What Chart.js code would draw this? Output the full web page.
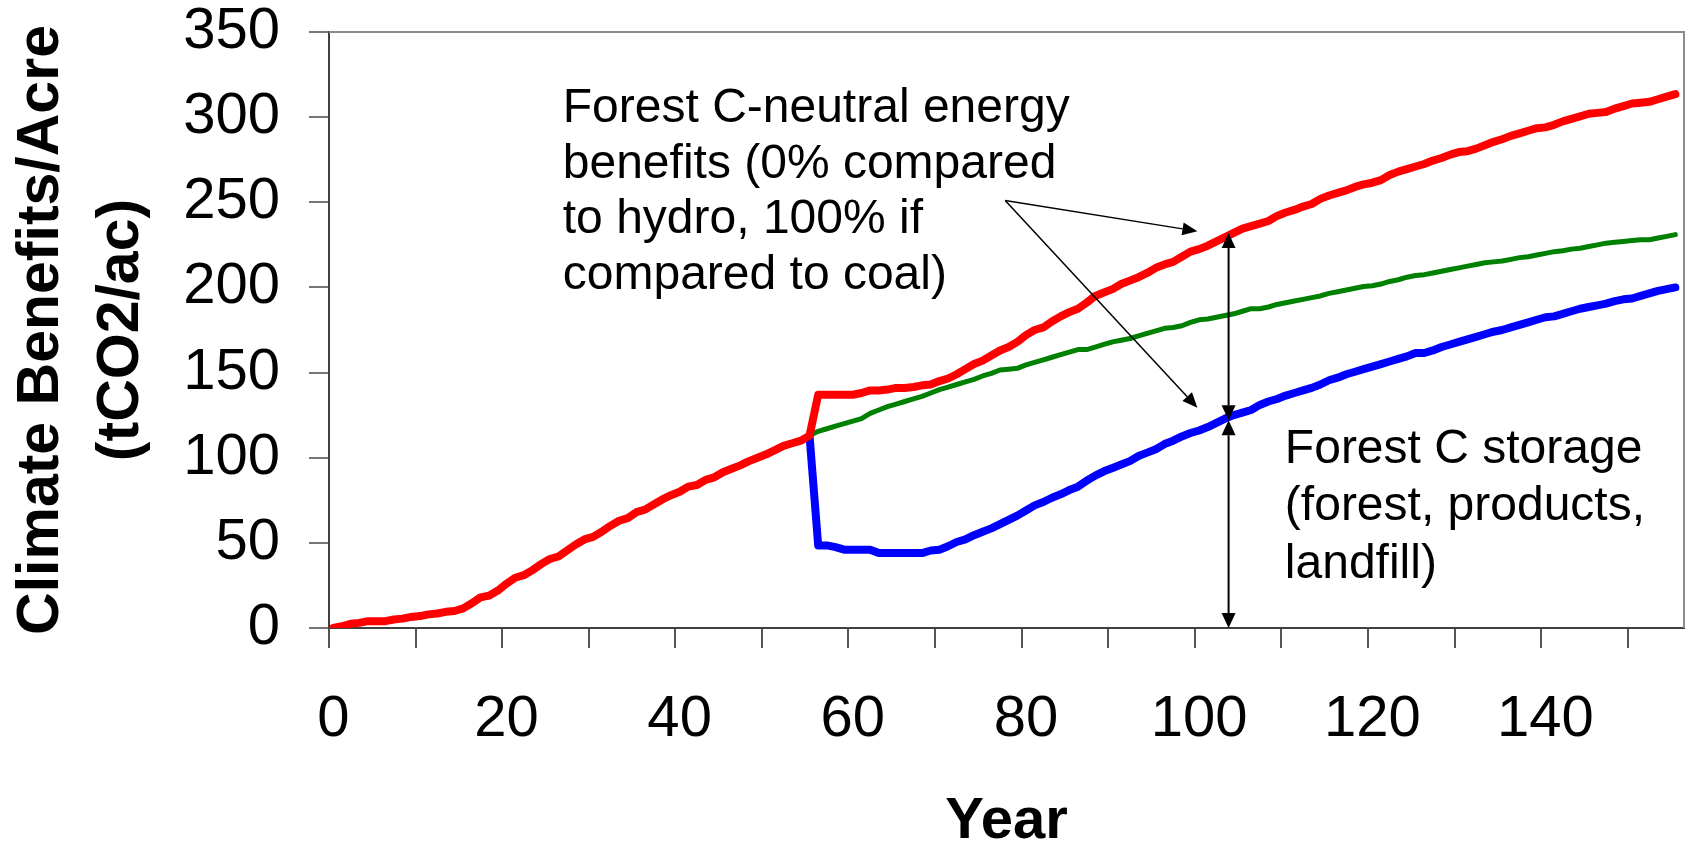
<!DOCTYPE html>
<html>
<head>
<meta charset="utf-8">
<script src="https://cdn.jsdelivr.net/npm/chart.js@4.4.1/dist/chart.umd.min.js"></script>
<style>
  html, body { margin: 0; padding: 0; background: #fff; }
  canvas { display: block; }
</style>
</head>
<body>
<canvas id="climate-chart" width="1688" height="847"></canvas>
<script>
// years 0..155, one value per year
const years = Array.from({length: 156}, (_, i) => i);

// forest C storage + C-neutral energy benefits (red)
const totalBenefits = [
  0, 1, 2.5, 3, 4, 4, 4, 5, 5.5, 6.5,
  7, 8, 8.5, 9.5, 10, 11.5, 14.5, 18, 19, 22,
  26, 29.5, 31, 34, 37.5, 40.5, 42, 45.5, 49, 52,
  53.5, 56.5, 60, 63, 64.5, 68, 69.5, 72.5, 75.5, 78,
  80, 83, 84, 87, 88.5, 91.5, 93.5, 95.5, 98, 100,
  102, 104.5, 107, 108.5, 110, 113, 137, 137, 137, 137,
  137, 138, 139.5, 139.5, 140, 141, 141, 141.5, 142.5, 143,
  145, 146.5, 149, 152, 155, 157, 160, 163, 165, 168,
  172, 175, 176.5, 180, 183, 185.5, 187.5, 191, 195, 197,
  199, 202, 204, 206, 208.5, 211.5, 213.5, 215, 218, 221,
  222.5, 224.5, 227, 229.5, 232, 234.5, 236, 237.5, 239, 242,
  244, 245.5, 247.5, 249, 252, 254, 255.5, 257, 259, 260.5,
  261.5, 263, 266, 268, 269.5, 271, 272.5, 274.5, 276, 278,
  279.5, 280, 281.5, 283.5, 285.5, 287, 289, 290.5, 292, 293.5,
  294, 295.5, 297.5, 299, 300.5, 302, 302.5, 303, 305, 306.5,
  308, 308.5, 309, 310.5, 312, 313.5
];

// the two storage lines split off the red one at the harvest year
const harvestYear = 55;

// forest C storage with harvest (blue), years 55..155
const harvestStorage = [
  113, 48.5, 48.5, 47.5, 46,
  46, 46, 46, 44, 44, 44, 44, 44, 44, 45.5,
  46, 48, 50.5, 52, 54.5, 56.5, 58.5, 61, 63.5, 66,
  69, 72, 74, 76.5, 78.5, 81, 83, 86.5, 89.5, 92,
  94, 96, 98, 101, 103, 105, 108, 110, 112.5, 114.5,
  116, 118, 120.5, 123, 125, 126.5, 128, 131, 133, 134.5,
  136.5, 138, 139.5, 141, 143, 145.5, 147, 149, 150.5, 152,
  153.5, 155, 156.5, 158, 159.5, 161.5, 161.5, 163, 165, 166.5,
  168, 169.5, 171, 172.5, 174, 175, 176.5, 178, 179.5, 181,
  182.5, 183, 184.5, 186, 187.5, 188.5, 189.5, 190.5, 192, 193,
  193.5, 195, 196.5, 198, 199, 200
];

// forest C storage without harvest (green), years 55..155
const noHarvestStorage = [
  113, 115.5, 117, 118.5, 120,
  121.5, 123, 126, 128, 130, 131.5, 133, 134.5, 136, 138,
  140, 141.5, 143, 144.5, 146, 148, 149.5, 151.5, 152, 152.5,
  154.5, 156, 157.5, 159, 160.5, 162, 163.5, 163.5, 165, 166.5,
  168, 169, 170, 171.5, 173, 174.5, 176, 176.5, 177.5, 179.5,
  181, 181.5, 182.5, 183.5, 184.5, 186, 187.5, 187.5, 188.5, 190,
  191, 192, 193, 194, 195, 196.5, 197.5, 198.5, 199.5, 200.5,
  201, 202, 203.5, 204.5, 206, 207, 207.5, 208.5, 209.5, 210.5,
  211.5, 212.5, 213.5, 214.5, 215, 215.5, 216.5, 217.5, 218, 219,
  220, 221, 221.5, 222.5, 223, 224, 225, 226, 226.5, 227,
  227.5, 228, 228, 229, 230, 231
];

// category axis: tick marks sit between years, labels every 20 years
const xTickYears = [0, 10, 20, 30, 40, 50, 60, 70, 80, 90, 100, 110, 120, 130, 140, 150];
const xTickLabels = ['0', '', '20', '', '40', '', '60', '', '80', '', '100', '', '120', '', '140', ''];

const energyNote = ['Forest C-neutral energy', 'benefits (0% compared', 'to hydro, 100% if', 'compared to coal)'];
const storageNote = ['Forest C storage', '(forest, products,', 'landfill)'];

// annotation anchors, in year / tCO2 units
const energyNoteAt = {x: 26.5, y: 297};
const storageNoteAt = {x: 109.9, y: 96.9};
const pointerFrom = {x: 77.6, y: 251};
const pointerTips = [{x: 99.8, y: 233}, {x: 99.8, y: 129.4}];
const bracketYear = 103.4;
const bracketLevels = [232, 122, 0];

const FONT = '"Liberation Sans", Arial, Helvetica, sans-serif';

function toPoints(values, startYear) {
  return values.map((v, i) => ({x: years[startYear + i], y: v}));
}

function drawArrowHead(ctx, fx, fy, tx, ty, len, half) {
  const a = Math.atan2(ty - fy, tx - fx);
  const bx = tx - len * Math.cos(a);
  const by = ty - len * Math.sin(a);
  ctx.beginPath();
  ctx.moveTo(tx, ty);
  ctx.lineTo(bx + half * Math.sin(a), by - half * Math.cos(a));
  ctx.lineTo(bx - half * Math.sin(a), by + half * Math.cos(a));
  ctx.closePath();
  ctx.fill();
}

function drawArrow(ctx, fx, fy, tx, ty, opts) {
  const {len, half, both} = opts;
  const a = Math.atan2(ty - fy, tx - fx);
  const sx = both ? fx + len * Math.cos(a) : fx;
  const sy = both ? fy + len * Math.sin(a) : fy;
  ctx.beginPath();
  ctx.moveTo(sx, sy);
  ctx.lineTo(tx - len * Math.cos(a), ty - len * Math.sin(a));
  ctx.stroke();
  drawArrowHead(ctx, fx, fy, tx, ty, len, half);
  if (both) {
    drawArrowHead(ctx, tx, ty, fx, fy, len, half);
  }
}

const annotations = {
  id: 'annotations',
  beforeDatasetsDraw(chart) {
    const {ctx, chartArea: area} = chart;
    ctx.save();
    ctx.strokeStyle = '#8c8c8c';
    ctx.lineWidth = 2;
    ctx.beginPath();
    ctx.moveTo(area.left, area.top);
    ctx.lineTo(area.right, area.top);
    ctx.lineTo(area.right, area.bottom);
    ctx.stroke();
    ctx.restore();
  },
  afterDatasetsDraw(chart) {
    const {ctx, scales: {x, y}} = chart;
    ctx.save();
    ctx.fillStyle = '#000';
    ctx.strokeStyle = '#000';

    // pointers from the energy note
    ctx.lineWidth = 1.5;
    const ox = x.getPixelForValue(pointerFrom.x);
    const oy = y.getPixelForValue(pointerFrom.y);
    pointerTips.forEach(tip => {
      drawArrow(ctx, ox, oy, x.getPixelForValue(tip.x), y.getPixelForValue(tip.y), {len: 15, half: 6.5});
    });

    // vertical brackets
    ctx.lineWidth = 2;
    const bx = x.getPixelForValue(bracketYear);
    for (let i = 0; i < bracketLevels.length - 1; i++) {
      drawArrow(ctx, bx, y.getPixelForValue(bracketLevels[i]), bx, y.getPixelForValue(bracketLevels[i + 1]),
        {len: 15, half: 7, both: true});
    }

    // notes
    ctx.font = '48px ' + FONT;
    ctx.textAlign = 'left';
    ctx.textBaseline = 'alphabetic';
    const ex = x.getPixelForValue(energyNoteAt.x);
    const ey = y.getPixelForValue(energyNoteAt.y);
    energyNote.forEach((line, i) => ctx.fillText(line, ex, ey + i * 55.5));
    const sx = x.getPixelForValue(storageNoteAt.x);
    const sy = y.getPixelForValue(storageNoteAt.y);
    storageNote.forEach((line, i) => ctx.fillText(line, sx, sy + i * 57.5));
    ctx.restore();
  }
};

new Chart(document.getElementById('climate-chart').getContext('2d'), {
  type: 'line',
  data: {
    datasets: [
      {
        label: 'Storage + C-neutral energy',
        data: toPoints(totalBenefits, 0),
        borderColor: '#ff0000',
        borderWidth: 8
      },
      {
        label: 'Forest C storage (harvest)',
        data: toPoints(harvestStorage, harvestYear),
        borderColor: '#0000ff',
        borderWidth: 8
      },
      {
        label: 'Forest C storage (no harvest)',
        data: toPoints(noHarvestStorage, harvestYear),
        borderColor: '#008000',
        borderWidth: 5
      }
    ]
  },
  options: {
    responsive: false,
    animation: false,
    events: [],
    layout: {
      padding: {left: 0, top: 32, right: 4, bottom: 0}
    },
    plugins: {
      legend: {display: false},
      tooltip: {enabled: false}
    },
    elements: {
      point: {radius: 0},
      line: {tension: 0, borderCapStyle: 'round', borderJoinStyle: 'round'}
    },
    scales: {
      x: {
        type: 'linear',
        min: -0.5,
        max: 156,
        bounds: 'data',
        afterBuildTicks: scale => {
          scale.ticks = xTickYears.map(v => ({value: v - 0.5}));
        },
        afterFit: scale => {
          scale.height = 219;
          scale.paddingLeft = 0;
          scale.paddingRight = 0;
        },
        grid: {drawOnChartArea: false, tickLength: 20, color: '#555', lineWidth: 2},
        border: {color: '#404040', width: 2},
        ticks: {
          callback: (value, index) => xTickLabels[index],
          autoSkip: false,
          maxRotation: 0,
          padding: 37,
          labelOffset: 4.3,
          color: '#000',
          font: {family: FONT, size: 58}
        },
        title: {
          display: true,
          text: 'Year',
          color: '#000',
          padding: 0,
          font: {family: FONT, size: 58, weight: 'bold', lineHeight: 0.85}
        }
      },
      y: {
        min: 0,
        max: 350,
        afterFit: scale => {
          scale.width = 329;
          scale.paddingTop = 0;
          scale.paddingBottom = 0;
        },
        grid: {drawOnChartArea: false, tickLength: 20, color: '#777', lineWidth: 2},
        border: {color: '#404040', width: 2},
        ticks: {
          stepSize: 50,
          padding: 29,
          color: '#000',
          font: {family: FONT, size: 58}
        },
        title: {
          display: true,
          text: ['Climate Benefits/Acre', '(tCO2/ac)'],
          color: '#000',
          padding: {top: 1.5, bottom: 0},
          font: {family: FONT, size: 59, weight: 'bold', lineHeight: 80 / 59}
        }
      }
    }
  },
  plugins: [annotations]
});
</script>
</body>
</html>
